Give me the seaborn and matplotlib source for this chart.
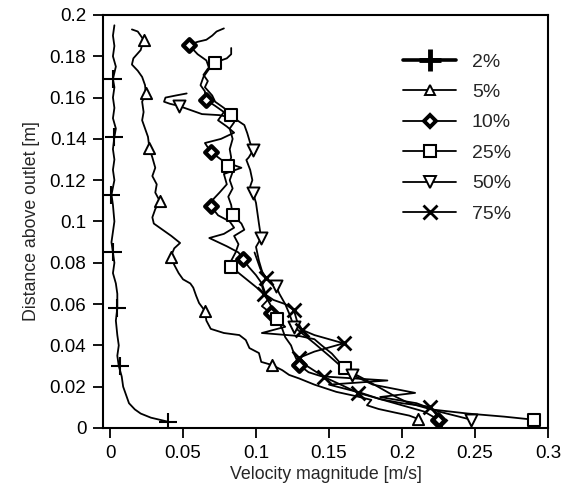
import matplotlib
matplotlib.use("Agg")
import matplotlib.pyplot as plt
from matplotlib.lines import Line2D
from matplotlib.ticker import FormatStrFormatter
import seaborn as sns

# velocity profiles (x = velocity [m/s], y = height above outlet [m]), read top -> bottom
x_2 = [0.003, 0.002, 0.003, 0.002, 0.004, 0.002, 0.003, 0.002, 0.003, 0.002, 0.004, 0.003, 0.002, 0.003,
       0.002, 0.003, 0.001, 0.002, 0.003, 0.002, 0.001, 0.002, 0.003, 0.002, 0.004, 0.005, 0.005, 0.004,
       0.005, 0.006, 0.005, 0.006, 0.008, 0.009, 0.011, 0.013, 0.017, 0.021, 0.028, 0.040]
y_2 = [0.195, 0.19, 0.185, 0.18, 0.175, 0.169, 0.165, 0.16, 0.155, 0.15, 0.145, 0.141, 0.135, 0.13,
       0.125, 0.12, 0.113, 0.108, 0.1, 0.095, 0.09, 0.085, 0.08, 0.075, 0.07, 0.065, 0.058, 0.052,
       0.045, 0.04, 0.035, 0.03, 0.025, 0.02, 0.016, 0.012, 0.009, 0.007, 0.005, 0.003]
mx_2 = [0.040, 0.007, 0.005, 0.002, 0.001, 0.003, 0.002]
my_2 = [0.003, 0.030, 0.058, 0.085, 0.113, 0.141, 0.169]

x_5 = [0.015, 0.019, 0.023, 0.021, 0.016, 0.015, 0.019, 0.022, 0.024, 0.0245, 0.022, 0.023, 0.022, 0.024,
       0.026, 0.027, 0.029, 0.031, 0.029, 0.032, 0.031, 0.034, 0.031, 0.029, 0.030, 0.036, 0.042, 0.048,
       0.044, 0.0416, 0.044, 0.047, 0.050, 0.055, 0.057, 0.059, 0.061, 0.065, 0.066, 0.069, 0.078, 0.0886,
       0.093, 0.0955, 0.102, 0.1036, 0.111, 0.118, 0.1227, 0.1295, 0.140, 0.155, 0.168, 0.179, 0.176,
       0.184, 0.195, 0.205, 0.211]
y_5 = [0.193, 0.192, 0.188, 0.183, 0.179, 0.176, 0.173, 0.170, 0.166, 0.162, 0.158, 0.153, 0.149, 0.145,
       0.141, 0.1355, 0.131, 0.126, 0.122, 0.118, 0.114, 0.110, 0.106, 0.102, 0.099, 0.096, 0.093, 0.0896,
       0.087, 0.083, 0.079, 0.075, 0.072, 0.070, 0.068, 0.064, 0.0605, 0.0567, 0.052, 0.048, 0.046, 0.045,
       0.0426, 0.0387, 0.0363, 0.032, 0.0305, 0.028, 0.0257, 0.024, 0.021, 0.0175, 0.0155, 0.0136, 0.011,
       0.0092, 0.0075, 0.006, 0.0044]
mx_5 = [0.023, 0.0245, 0.027, 0.034, 0.0416, 0.065, 0.111, 0.211]
my_5 = [0.188, 0.162, 0.1355, 0.110, 0.083, 0.0567, 0.0305, 0.0044]

x_10 = [0.078, 0.073, 0.070, 0.066, 0.060, 0.054, 0.060, 0.066, 0.068, 0.064, 0.062, 0.065, 0.0655, 0.072,
        0.078, 0.074, 0.080, 0.085, 0.076, 0.065, 0.069, 0.078, 0.090, 0.078, 0.080, 0.075, 0.071, 0.069,
        0.074, 0.082, 0.085, 0.078, 0.068, 0.080, 0.088, 0.091, 0.095, 0.100, 0.104, 0.106, 0.108, 0.104,
        0.110, 0.115, 0.118, 0.120, 0.124, 0.126, 0.1295, 0.136, 0.145, 0.190, 0.150, 0.172, 0.185, 0.200,
        0.215, 0.225]
y_10 = [0.1935, 0.192, 0.190, 0.188, 0.187, 0.1855, 0.181, 0.178, 0.174, 0.170, 0.166, 0.163, 0.159, 0.156,
        0.153, 0.149, 0.146, 0.143, 0.140, 0.138, 0.1337, 0.129, 0.126, 0.123, 0.118, 0.114, 0.111, 0.1075,
        0.103, 0.100, 0.097, 0.094, 0.092, 0.088, 0.085, 0.082, 0.078, 0.074, 0.070, 0.066, 0.062, 0.059,
        0.0557, 0.052, 0.048, 0.044, 0.040, 0.036, 0.0305, 0.027, 0.025, 0.023, 0.021, 0.017, 0.014, 0.011,
        0.008, 0.004]
mx_10 = [0.054, 0.0655, 0.069, 0.069, 0.091, 0.110, 0.1295, 0.225]
my_10 = [0.1855, 0.159, 0.1337, 0.1075, 0.082, 0.0557, 0.0305, 0.004]

x_25 = [0.083, 0.083, 0.080, 0.076, 0.0716, 0.067, 0.064, 0.067, 0.065, 0.070, 0.072, 0.078, 0.083, 0.085,
        0.082, 0.084, 0.082, 0.083, 0.081, 0.084, 0.082, 0.084, 0.081, 0.083, 0.084, 0.090, 0.092, 0.085,
        0.088, 0.086, 0.083, 0.083, 0.090, 0.097, 0.104, 0.108, 0.112, 0.1145, 0.120, 0.104, 0.130, 0.140,
        0.145, 0.152, 0.157, 0.161, 0.168, 0.176, 0.186, 0.196, 0.205, 0.220, 0.245, 0.270, 0.2905]
y_25 = [0.184, 0.181, 0.179, 0.178, 0.1767, 0.174, 0.171, 0.168, 0.165, 0.161, 0.158, 0.155, 0.1515, 0.148,
        0.145, 0.140, 0.135, 0.131, 0.127, 0.124, 0.120, 0.116, 0.112, 0.108, 0.103, 0.099, 0.096, 0.093,
        0.089, 0.085, 0.081, 0.078, 0.074, 0.070, 0.066, 0.062, 0.057, 0.0528, 0.049, 0.046, 0.0445, 0.043,
        0.040, 0.036, 0.032, 0.029, 0.026, 0.023, 0.019, 0.015, 0.012, 0.009, 0.007, 0.0055, 0.004]
mx_25 = [0.0716, 0.083, 0.081, 0.084, 0.083, 0.1145, 0.161, 0.2905]
my_25 = [0.1767, 0.1515, 0.127, 0.103, 0.078, 0.0528, 0.029, 0.004]

x_50 = [0.0525, 0.045, 0.038, 0.037, 0.041, 0.047, 0.055, 0.063, 0.075, 0.085, 0.092, 0.094, 0.096, 0.098,
        0.095, 0.0934, 0.096, 0.0975, 0.096, 0.098, 0.100, 0.101, 0.102, 0.1035, 0.100, 0.102, 0.1045, 0.108,
        0.1135, 0.116, 0.120, 0.123, 0.126, 0.133, 0.140, 0.150, 0.158, 0.166, 0.180, 0.209, 0.185, 0.210,
        0.225, 0.2475]
y_50 = [0.162, 0.161, 0.160, 0.158, 0.157, 0.156, 0.154, 0.152, 0.1515, 0.150, 0.1467, 0.1428, 0.138, 0.1345,
        0.131, 0.1298, 0.125, 0.120, 0.117, 0.1137, 0.109, 0.104, 0.099, 0.092, 0.0877, 0.081, 0.075, 0.072,
        0.069, 0.065, 0.060, 0.055, 0.049, 0.045, 0.041, 0.035, 0.030, 0.0257, 0.021, 0.017, 0.015, 0.012,
        0.008, 0.004]
mx_50 = [0.047, 0.098, 0.098, 0.1035, 0.1135, 0.126, 0.166, 0.2475]
my_50 = [0.156, 0.1345, 0.1137, 0.092, 0.069, 0.049, 0.0257, 0.004]

x_75 = [0.099, 0.101, 0.103, 0.107, 0.104, 0.1057, 0.112, 0.120, 0.126, 0.128, 0.1316, 0.140, 0.150, 0.160,
        0.150, 0.140, 0.1295, 0.135, 0.1466, 0.158, 0.170, 0.185, 0.200, 0.2195, 0.224, 0.226]
y_75 = [0.085, 0.081, 0.077, 0.0726, 0.069, 0.065, 0.062, 0.060, 0.057, 0.052, 0.0475, 0.045, 0.043, 0.041,
        0.039, 0.037, 0.034, 0.030, 0.0247, 0.021, 0.017, 0.014, 0.012, 0.0102, 0.006, 0.001]
mx_75 = [0.107, 0.1057, 0.126, 0.1316, 0.160, 0.1295, 0.1466, 0.170, 0.2195, 0.226]
my_75 = [0.0726, 0.065, 0.057, 0.0475, 0.041, 0.034, 0.0247, 0.017, 0.0102, 0.001]

labels = ["2%", "5%", "10%", "25%", "50%", "75%"]

sns.set_style("ticks")
plt.rcParams["font.family"] = ["Liberation Sans", "DejaVu Sans"]
plt.rcParams["font.size"] = 13.5

fig = plt.figure(figsize=(5.71, 4.96), dpi=100)
ax = fig.add_axes([0.1804, 0.1371, 0.7793, 0.8327])

series = [(x_2, y_2), (x_5, y_5), (x_10, y_10), (x_25, y_25), (x_50, y_50), (x_75, y_75)]
for xs, ys in series:
    sns.lineplot(x=xs, y=ys, sort=False, estimator=None, color="black", lw=1.3, ax=ax)

# markers
sns.scatterplot(x=mx_2, y=my_2, marker="+", s=150, color="black", linewidth=1.5, ax=ax, zorder=3)
sns.scatterplot(x=mx_5, y=my_5, marker="^", s=65, facecolor="white", edgecolor="black", linewidth=1.4, ax=ax, zorder=3)
sns.scatterplot(x=mx_10, y=my_10, marker="D", s=42, facecolor="white", edgecolor="black", linewidth=3, ax=ax, zorder=3)
sns.scatterplot(x=mx_25, y=my_25, marker="s", s=85, facecolor="white", edgecolor="black", linewidth=1.5, ax=ax, zorder=3)
sns.scatterplot(x=mx_50, y=my_50, marker="v", s=75, facecolor="white", edgecolor="black", linewidth=1.4, ax=ax, zorder=3)
sns.scatterplot(x=mx_75, y=my_75, marker="x", s=100, color="black", linewidth=2, ax=ax, zorder=3)

ax.set_xlim(-0.0048, 0.3)
ax.set_ylim(0, 0.2)
ax.set_xticks([0, 0.05, 0.1, 0.15, 0.2, 0.25, 0.3])
ax.set_yticks([0, 0.02, 0.04, 0.06, 0.08, 0.1, 0.12, 0.14, 0.16, 0.18, 0.2])
ax.xaxis.set_major_formatter(FormatStrFormatter("%g"))
ax.yaxis.set_major_formatter(FormatStrFormatter("%g"))
ax.tick_params(direction="out", length=7, width=1.3, labelsize=13.5, colors="black", pad=5)
for sp in ax.spines.values():
    sp.set_visible(True)
    sp.set_linewidth(1.5)
    sp.set_color("black")
ax.set_xlabel("Velocity magnitude [m/s]", fontsize=12.8, labelpad=3)
ax.set_ylabel("Distance above outlet [m]", fontsize=12.8, labelpad=7)

handles = [
    Line2D([], [], color="black", lw=2.6, marker="+", ms=16, mew=3.5),
    Line2D([], [], color="black", lw=1.3, marker="^", ms=6.5, mfc="white", mec="black", mew=1.4),
    Line2D([], [], color="black", lw=1.3, marker="D", ms=6.5, mfc="white", mec="black", mew=2.8),
    Line2D([], [], color="black", lw=1.3, marker="s", ms=9, mfc="white", mec="black", mew=1.5),
    Line2D([], [], color="black", lw=1.3, marker="v", ms=8, mfc="white", mec="black", mew=1.4),
    Line2D([], [], color="black", lw=1.3, marker="x", ms=10, mew=2),
]
ax.legend(handles, labels, loc="upper left", bbox_to_anchor=(0.674, 0.908), frameon=False,
          handlelength=2.75, handletextpad=0.8, labelspacing=0.66, borderpad=0, borderaxespad=0,
          fontsize=14)

fig.savefig("out.png", dpi=100)
